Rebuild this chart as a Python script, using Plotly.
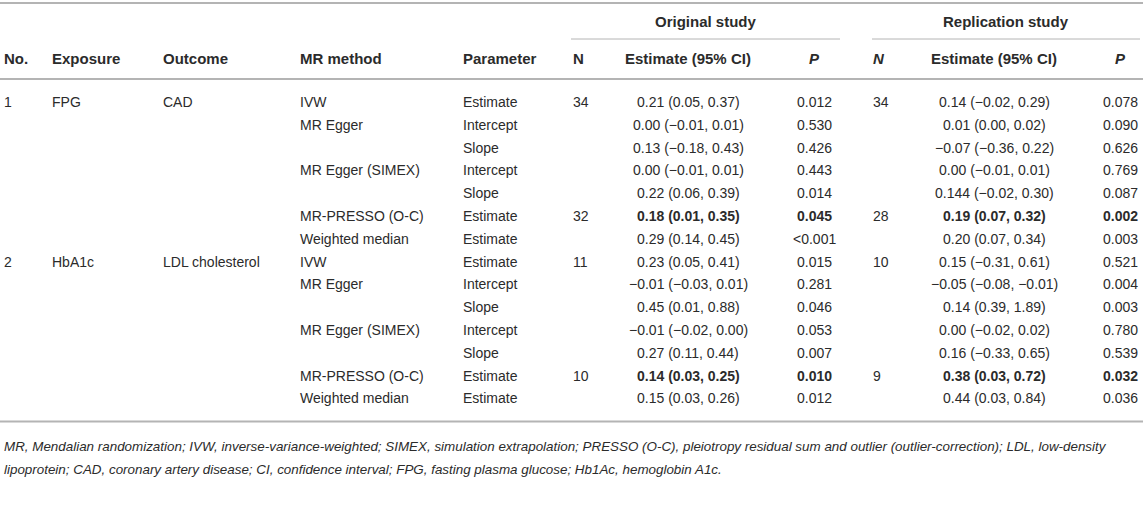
import plotly.graph_objects as go

# ---- table content ----
group_labels = ["Original study", "Replication study"]
headers = ["No.", "Exposure", "Outcome", "MR method", "Parameter",
           "N", "Estimate (95% CI)", "<i>P</i>",
           "<i>N</i>", "Estimate (95% CI)", "<i>P</i>"]

row_no = ["1", "", "", "", "", "", "",
          "2", "", "", "", "", "", ""]
exposure = ["FPG", "", "", "", "", "", "",
            "HbA1c", "", "", "", "", "", ""]
outcome = ["CAD", "", "", "", "", "", "",
           "LDL cholesterol", "", "", "", "", "", ""]
mr_method = ["IVW", "MR Egger", "", "MR Egger (SIMEX)", "", "MR-PRESSO (O-C)", "Weighted median",
             "IVW", "MR Egger", "", "MR Egger (SIMEX)", "", "MR-PRESSO (O-C)", "Weighted median"]
parameter = ["Estimate", "Intercept", "Slope", "Intercept", "Slope", "Estimate", "Estimate",
             "Estimate", "Intercept", "Slope", "Intercept", "Slope", "Estimate", "Estimate"]

orig_n = ["34", "", "", "", "", "32", "",
          "11", "", "", "", "", "10", ""]
orig_est = ["0.21 (0.05, 0.37)", "0.00 (\u22120.01, 0.01)", "0.13 (\u22120.18, 0.43)",
            "0.00 (\u22120.01, 0.01)", "0.22 (0.06, 0.39)", "0.18 (0.01, 0.35)",
            "0.29 (0.14, 0.45)", "0.23 (0.05, 0.41)", "\u22120.01 (\u22120.03, 0.01)",
            "0.45 (0.01, 0.88)", "\u22120.01 (\u22120.02, 0.00)", "0.27 (0.11, 0.44)",
            "0.14 (0.03, 0.25)", "0.15 (0.03, 0.26)"]
orig_p = ["0.012", "0.530", "0.426", "0.443", "0.014", "0.045", "&lt;0.001",
          "0.015", "0.281", "0.046", "0.053", "0.007", "0.010", "0.012"]

rep_n = ["34", "", "", "", "", "28", "",
         "10", "", "", "", "", "9", ""]
rep_est = ["0.14 (\u22120.02, 0.29)", "0.01 (0.00, 0.02)", "\u22120.07 (\u22120.36, 0.22)",
           "0.00 (\u22120.01, 0.01)", "0.144 (\u22120.02, 0.30)", "0.19 (0.07, 0.32)",
           "0.20 (0.07, 0.34)", "0.15 (\u22120.31, 0.61)", "\u22120.05 (\u22120.08, \u22120.01)",
           "0.14 (0.39, 1.89)", "0.00 (\u22120.02, 0.02)", "0.16 (\u22120.33, 0.65)",
           "0.38 (0.03, 0.72)", "0.44 (0.03, 0.84)"]
rep_p = ["0.078", "0.090", "0.626", "0.769", "0.087", "0.002", "0.003",
         "0.521", "0.004", "0.003", "0.780", "0.539", "0.032", "0.036"]

bold_rows = [5, 12]   # MR-PRESSO (O-C) rows

footnote = [
    "MR, Mendalian randomization; IVW, inverse-variance-weighted; SIMEX, simulation extrapolation; "
    "PRESSO (O-C), pleiotropy residual sum and outlier (outlier-correction); LDL, low-density",
    "lipoprotein; CAD, coronary artery disease; CI, confidence interval; FPG, fasting plasma glucose; "
    "Hb1Ac, hemoglobin A1c.",
]

# ---- layout settings ----
W, H = 1143, 515
FONT = "Liberation Sans, Arial, Helvetica, sans-serif"
TXT = "#2b2b2b"
RULE = "#b4b4b4"

# (x, anchor) per column
columns = [(3, "left"), (51, "left"), (162, "left"), (299, "left"), (462, "left"),
           (572, "left"), (688, "center"), (814, "center"),
           (872, "left"), (994, "center"), (1120, "center")]
group_span = [(571, 840), (872, 1140)]

y_group = 21
y_group_rule = 39
y_header = 58
y_header_rule = 79
row_top = 102
row_pitch = 22.8
n_rows = len(row_no)
row_y = [row_top + i * row_pitch for i in range(n_rows)]
y_bottom_rule = row_y[-1] + 23
y_foot = [y_bottom_rule + 25, y_bottom_rule + 48]

fig = go.Figure()
annotations = []


def add_text(x, y, text, anchor="left", size=14, bold=False, italic=False):
    if bold:
        text = "<b>" + text + "</b>"
    if italic:
        text = "<i>" + text + "</i>"
    annotations.append(dict(
        x=x, y=y, xref="x", yref="y", text=text, showarrow=False,
        xanchor=anchor, yanchor="middle", borderpad=0,
        font=dict(family=FONT, size=size, color=TXT)))


# group labels
for (x0, x1), label in zip(group_span, group_labels):
    add_text((x0 + x1) / 2, y_group, label, "center", size=15, bold=True)

# headers
for (x, anchor), h in zip(columns, headers):
    add_text(x, y_header, h, anchor, size=15, bold=True)

# body
body = [row_no, exposure, outcome, mr_method, parameter,
        orig_n, orig_est, orig_p, rep_n, rep_est, rep_p]
bold_cols = {6, 7, 9, 10}
for ci, ((x, anchor), col) in enumerate(zip(columns, body)):
    for ri, val in enumerate(col):
        if val:
            add_text(x, row_y[ri], val, anchor,
                     bold=(ri in bold_rows and ci in bold_cols))

# footnote
for y, line in zip(y_foot, footnote):
    add_text(3, y, line, "left", size=13.4, italic=True)

# rules
shapes = [
    dict(type="line", x0=0, x1=W, y0=3, y1=3, line=dict(color=RULE, width=2)),
    dict(type="line", x0=0, x1=W, y0=y_header_rule, y1=y_header_rule,
         line=dict(color=RULE, width=2)),
    dict(type="line", x0=0, x1=W, y0=y_bottom_rule, y1=y_bottom_rule,
         line=dict(color=RULE, width=2)),
]
for x0, x1 in group_span:
    shapes.append(dict(type="line", x0=x0, x1=x1, y0=y_group_rule, y1=y_group_rule,
                       line=dict(color=RULE, width=1)))

fig.update_layout(
    width=W, height=H,
    margin=dict(l=0, r=0, t=0, b=0),
    paper_bgcolor="white", plot_bgcolor="white",
    xaxis=dict(range=[0, W], visible=False, fixedrange=True),
    yaxis=dict(range=[H, 0], visible=False, fixedrange=True),
    annotations=annotations,
    shapes=shapes,
    showlegend=False,
)

fig.write_html("out.html", config={"displayModeBar": False},
               post_script="document.body.style.margin='0';")
